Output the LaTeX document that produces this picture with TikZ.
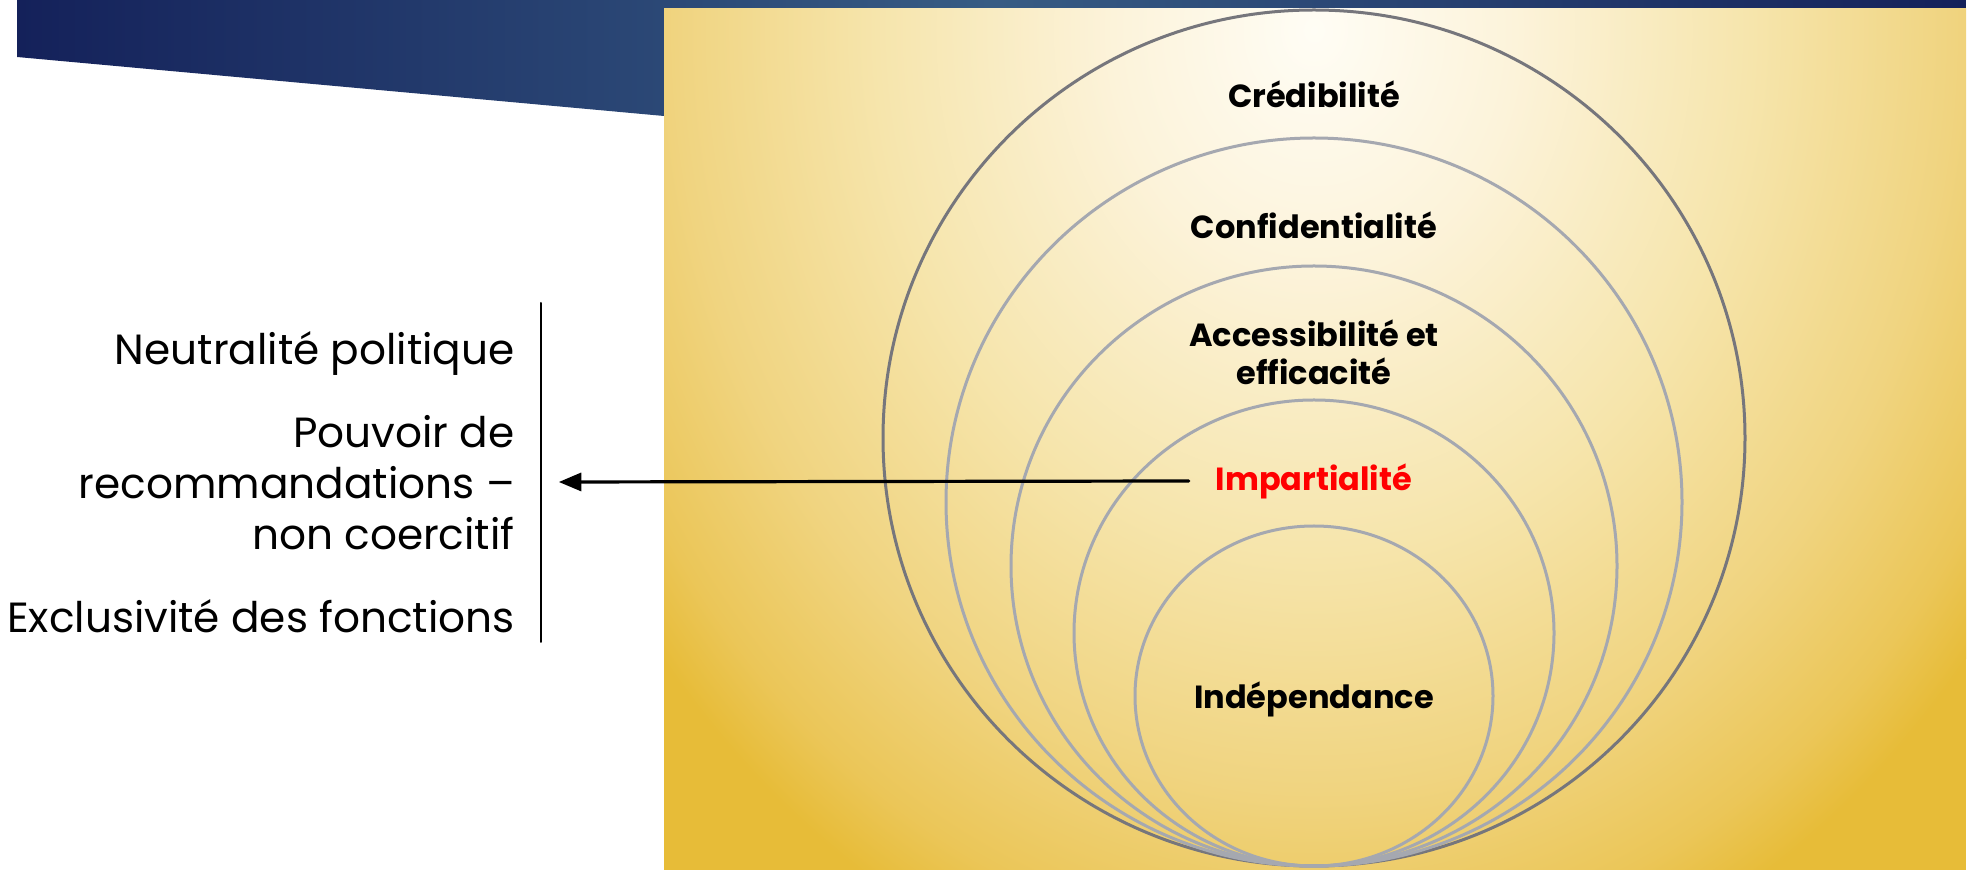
\documentclass[tikz,border=0pt]{standalone}
\usepackage{fontspec}
\setmainfont{Poppins}
\usetikzlibrary{arrows}

\definecolor{bannernavy}{RGB}{20,33,90}
\definecolor{bannersteel}{RGB}{55,92,132}
\definecolor{ringdark}{RGB}{118,118,124}
\definecolor{ringlight}{RGB}{165,168,176}
\definecolor{glowwhite}{RGB}{255,253,245}
\definecolor{glowcream}{RGB}{252,243,218}
\definecolor{glowlight}{RGB}{246,229,172}
\definecolor{glowmid}{RGB}{240,212,128}
\definecolor{glowgold}{RGB}{235,198,88}
\definecolor{panelgold}{RGB}{231,188,56}

\pgfdeclareradialshading{panelglow}{\pgfpoint{0bp}{0bp}}{color(0bp)=(glowwhite); color(6bp)=(glowcream); color(13bp)=(glowlight); color(19bp)=(glowmid); color(23bp)=(glowgold); color(25bp)=(panelgold); color(50bp)=(panelgold)}

\tikzset{
  ring/.style={draw=ringlight, line width=1.5pt},
  ringlabel/.style={font=\bfseries\fontsize{16}{19}\selectfont, align=center},
  sidelabel/.style={font=\fontsize{21.1}{25.5}\selectfont, anchor=east, align=right, inner sep=0pt}
}

\begin{document}
\begin{tikzpicture}[line cap=round,line join=round,>=triangle 45,x=0.5pt,y=-0.5pt]
      \useasboundingbox (0,0) rectangle (1971,870);

      % Add banner
      \shade[left color=bannernavy, right color=bannernavy, middle color=bannersteel] (17,0) -- (17,57) -- (664,116) -- (1966,116) -- (1966,0) -- cycle;

      % Add panel
      \fill[panelgold] (664,9) rectangle (1966,870);
      \begin{scope}
        \clip (664,9) rectangle (1966,870);
        \shade[shading=panelglow] (1314,30) ellipse [x radius=840, y radius=1000];
      \end{scope}

      % Add rings
      \draw[ring, draw=ringdark] (1314,438) ellipse [x radius=431, y radius=428];
      \draw[ring] (1314,502) ellipse [x radius=368, y radius=364];
      \draw[ring] (1314,566) ellipse [x radius=303, y radius=300];
      \draw[ring] (1314,633) ellipse [x radius=240, y radius=233];
      \draw[ring] (1314,696) ellipse [x radius=179, y radius=170];

      % Add ring labels
      \node[ringlabel] (credib) at (1314,94) {Crédibilité};
      \node[ringlabel] (confid) at (1314,225) {Confidentialité};
      \node[ringlabel] (access) at (1314,352) {Accessibilité et\\efficacité};
      \node[ringlabel, text=red] (impart) at (1314,481) {Impartialité};
      \node[ringlabel] (indep) at (1314,699) {Indépendance};

      % Add side labels
      \node[sidelabel] (neutral) at (515,353) {Neutralité politique};
      \node[sidelabel] (pouvoir) at (515,483) {Pouvoir de\\recommandations –\\non coercitif};
      \node[sidelabel] (exclus) at (515,616) {Exclusivité des fonctions};

      % Add bar and arrow
      \coordinate (bartop) at (541,303);
      \coordinate (barbot) at (541,642);
      \draw[line width=1pt] (bartop) -- (barbot);
      \coordinate (tip) at (559,482);
      \draw[->, line width=1.6pt] ([xshift=-10pt]impart.west) -- (tip);
\end{tikzpicture}
\end{document}
